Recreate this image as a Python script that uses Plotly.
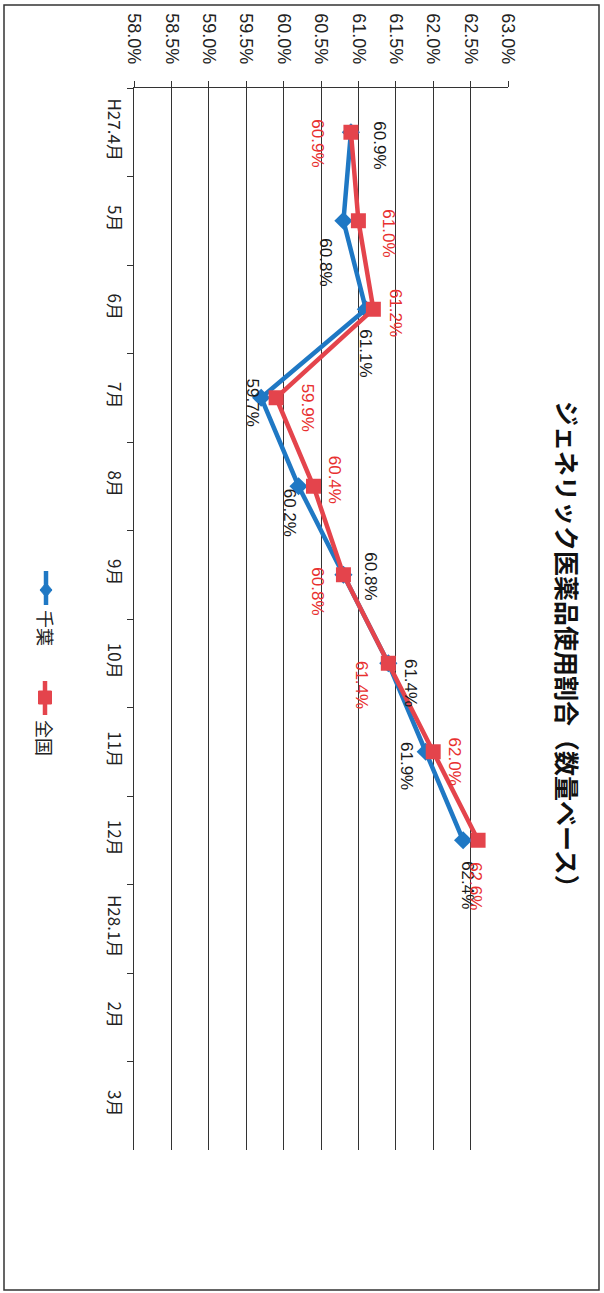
import plotly.graph_objects as go

# ---- data ----
categories = ["H27.4月", "5月", "6月", "7月", "8月", "9月", "10月", "11月", "12月", "H28.1月", "2月", "3月"]
chiba = [60.9, 60.8, 61.1, 59.7, 60.2, 60.8, 61.4, 61.9, 62.4]
zenkoku = [60.9, 61.0, 61.2, 59.9, 60.4, 60.8, 61.4, 62.0, 62.6]
series_names = ["千葉", "全国"]
title_text = "ジェネリック医薬品使用割合（数量ベース）"

# ---- style ----
W, H = 604, 1293
L, R, T, B = 134, 508, 88, 1150  # plot area in pixels
BLUE = "#1f78c4"
RED = "#e4444c"
RED_TXT = "#e8302f"
FONT = "Liberation Sans, Arial, Noto Sans CJK JP"
JFONT = "Noto Sans CJK JP, Liberation Sans"

# label offsets (pixels, rotated layout: dx to the right, dy downward)
chiba_off = [(29, 13), (-18, 42), (0, 44), (-9, 5), (-9, 26), (27, 2), (22, 20), (-19, 14), (5, 45)]
zen_off = [(-33, 11), (30, 13), (22, 4), (31, 10), (21, -7), (-26, 17), (-27, 22), (21, 10), (-2, 46)]


def px(x):
    return (x - L) / (R - L)


def py(y):
    return (B - y) / (B - T)


fig = go.Figure()
fig.add_trace(go.Scatter(
    x=chiba, y=categories[:len(chiba)], mode="lines+markers", name=series_names[0],
    line=dict(color=BLUE, width=4.5),
    marker=dict(symbol="diamond", size=14, color=BLUE),
))
fig.add_trace(go.Scatter(
    x=zenkoku, y=categories[:len(zenkoku)], mode="lines+markers", name=series_names[1],
    line=dict(color=RED, width=4.5),
    marker=dict(symbol="square", size=15, color=RED),
))

ann = []
for v, c, (dx, dy) in zip(chiba, categories, chiba_off):
    ann.append(dict(x=v, y=c, xref="x", yref="y", text=f"{v:.1f}%", showarrow=False,
                    textangle=90, xshift=dx, yshift=-dy,
                    font=dict(family=FONT, size=17, color="#1a1a1a")))
for v, c, (dx, dy) in zip(zenkoku, categories, zen_off):
    ann.append(dict(x=v, y=c, xref="x", yref="y", text=f"{v:.1f}%", showarrow=False,
                    textangle=90, xshift=dx, yshift=-dy,
                    font=dict(family=FONT, size=17, color=RED_TXT)))

# title (rotated)
ann.append(dict(x=px(568), y=py(650), xref="paper", yref="paper", text="<b>" + title_text + "</b>",
                showarrow=False, textangle=90, xanchor="center", yanchor="middle",
                font=dict(family=JFONT, size=25, color="#111111")))

# legend (rotated, drawn manually)
ann.append(dict(x=px(46), y=py(628), xref="paper", yref="paper", text=series_names[0],
                showarrow=False, textangle=90, xanchor="center", yanchor="middle",
                font=dict(family=JFONT, size=18, color="#222222")))
ann.append(dict(x=px(45), y=py(738), xref="paper", yref="paper", text=series_names[1],
                showarrow=False, textangle=90, xanchor="center", yanchor="middle",
                font=dict(family=JFONT, size=18, color="#222222")))

shapes = [
    # outer border
    dict(type="rect", xref="paper", yref="paper", x0=px(4), x1=px(599), y0=py(5), y1=py(1290),
         line=dict(color="#333333", width=1.5)),
    # legend lines
    dict(type="line", xref="paper", yref="paper", x0=px(46), x1=px(46), y0=py(571), y1=py(605),
         line=dict(color=BLUE, width=4.5)),
    dict(type="line", xref="paper", yref="paper", x0=px(45), x1=px(45), y0=py(681), y1=py(715),
         line=dict(color=RED, width=4.5)),
    dict(type="path", xref="paper", yref="paper",
         path=f"M {px(46)},{py(583)} L {px(52)},{py(590)} L {px(46)},{py(597)} L {px(40)},{py(590)} Z",
         fillcolor=BLUE, line=dict(color=BLUE, width=1)),
    dict(type="rect", xref="paper", yref="paper", x0=px(38.5), x1=px(51.5), y0=py(691), y1=py(704),
         fillcolor=RED, line=dict(color=RED, width=1)),
]

fig.update_layout(
    width=W, height=H,
    margin=dict(l=L, r=W - R, t=T, b=H - B, autoexpand=False),
    paper_bgcolor="white", plot_bgcolor="white",
    showlegend=False,
    annotations=ann, shapes=shapes,
    font=dict(family=FONT, size=16, color="#222222"),
    xaxis=dict(
        range=[58, 63], side="top", dtick=0.5, tick0=58,
        tickformat=".1f", ticksuffix="%", tickangle=90,
        showgrid=True, gridcolor="#333333", gridwidth=1,
        showline=True, linecolor="#333333", linewidth=1.5,
        ticks="outside", ticklen=6, tickcolor="#333333",
        ticklabelstandoff=10,
        tickfont=dict(family=FONT, size=18, color="#222222"),
        zeroline=False, fixedrange=True, automargin=False,
    ),
    yaxis=dict(
        type="category", categoryorder="array", categoryarray=categories,
        range=[len(categories) - 0.5, -0.5],
        tickangle=90, showgrid=False,
        showline=True, linecolor="#333333", linewidth=1.5,
        ticks="outside", ticklen=6, tickcolor="#333333", tickson="boundaries",
        ticklabelstandoff=4,
        tickfont=dict(family=JFONT, size=17, color="#222222"),
        zeroline=False, fixedrange=True, automargin=False,
    ),
)

fig.write_html("out.html", config={"displayModeBar": False, "staticPlot": True},
               post_script="document.body.style.margin='0';document.body.style.padding='0';")
